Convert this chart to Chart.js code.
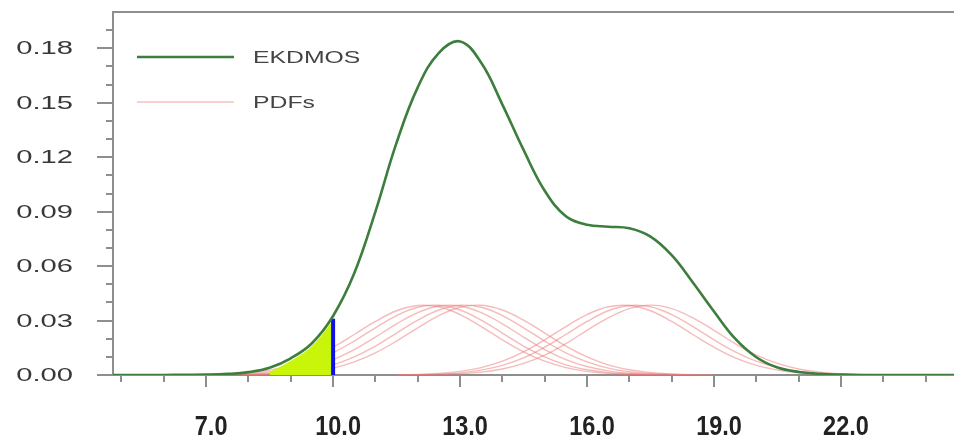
<!DOCTYPE html>
<html>
<head>
<meta charset="utf-8">
<title>EKDMOS</title>
<script src="https://cdn.jsdelivr.net/npm/chart.js@4.4.0/dist/chart.umd.min.js"></script>
<style>
  html, body { margin: 0; padding: 0; background: #fff; }
  #wrap { width: 954px; height: 438px; position: relative; }
</style>
</head>
<body>
<div id="wrap"><canvas id="pdfChart"></canvas></div>
<script>
const _ = null;

// Eje x común (cada 0.5)
const xValues = [4.5, 5.0, 5.5, 6.0, 6.5, 7.0, 7.5, 8.0, 8.5, 9.0, 9.5, 10.0,
  10.5, 11.0, 11.5, 12.0, 12.5, 13.0, 13.5, 14.0, 14.5, 15.0,
  15.5, 16.0, 16.5, 17.0, 17.5, 18.0, 18.5, 19.0, 19.5, 20.0,
  20.5, 21.0, 21.5, 22.0, 22.5, 23.0, 23.5, 24.0, 24.5, 25.0];

// Curva EKDMOS (verde)
const ekdmos = [0, 0, 0, 0, 0.0001, 0.0002, 0.0006, 0.0016, 0.0040, 0.0092, 0.0175, 0.0325,
  0.0560, 0.0900, 0.1280, 0.1585, 0.1775, 0.1838, 0.1720, 0.1490, 0.1240, 0.1015,
  0.0875, 0.0828, 0.0817, 0.0808, 0.0762, 0.0660, 0.0510, 0.0350, 0.0200, 0.0098,
  0.0041, 0.0017, 0.0007, 0.0002, 0, 0, 0, 0, 0, 0];

// Area sombreada bajo la curva hasta el umbral
const shaded = [_, _, _, _, _, _, _, _, 0.0015, 0.0078, 0.0160, 0.0300,
  _, _, _, _, _, _, _, _, _, _,
  _, _, _, _, _, _, _, _, _, _,
  _, _, _, _, _, _, _, _, _, _];

// Umbral (linea azul)
const thresholdX = 10.0;
const thresholdTop = 0.031;

// PDFs de los miembros (rosa)
const pdf1 = [_, _, _, _, 0.0001, 0.0002, 0.0005, 0.0012, 0.0027, 0.0053, 0.0094, 0.0153,
  0.0223, 0.0295, 0.0354, 0.0383, 0.0376, 0.0333, 0.0267, 0.0194, 0.0128, 0.0076,
  0.0041, 0.0020, 0.0009, 0.0003, 0.0001, _, _, _, _, _,
  _, _, _, _, _, _, _, _, _, _];
const pdf2 = [_, _, _, _, _, 0.0001, 0.0003, 0.0008, 0.0018, 0.0038, 0.0072, 0.0122,
  0.0187, 0.0260, 0.0327, 0.0373, 0.0384, 0.0358, 0.0302, 0.0231, 0.0159, 0.0100,
  0.0056, 0.0029, 0.0013, 0.0006, 0.0002, 0.0001, _, _, _, _,
  _, _, _, _, _, _, _, _, _, _];
const pdf3 = [_, _, _, _, _, 0.0001, 0.0002, 0.0004, 0.0010, 0.0023, 0.0047, 0.0085,
  0.0140, 0.0209, 0.0282, 0.0344, 0.0380, 0.0380, 0.0344, 0.0282, 0.0209, 0.0140,
  0.0085, 0.0047, 0.0023, 0.0010, 0.0004, 0.0002, 0.0001, _, _, _,
  _, _, _, _, _, _, _, _, _, _];
const pdf4 = [_, _, _, _, _, _, 0.0001, 0.0002, 0.0006, 0.0013, 0.0029, 0.0056,
  0.0100, 0.0159, 0.0231, 0.0302, 0.0358, 0.0384, 0.0373, 0.0327, 0.0260, 0.0187,
  0.0122, 0.0072, 0.0038, 0.0018, 0.0008, 0.0003, 0.0001, _, _, _,
  _, _, _, _, _, _, _, _, _, _];
const pdf5 = [_, _, _, _, _, _, _, 0.0001, 0.0003, 0.0008, 0.0018, 0.0038,
  0.0072, 0.0122, 0.0187, 0.0260, 0.0327, 0.0373, 0.0384, 0.0358, 0.0302, 0.0231,
  0.0159, 0.0100, 0.0056, 0.0029, 0.0013, 0.0006, 0.0002, 0.0001, _, _,
  _, _, _, _, _, _, _, _, _, _];
const pdf6 = [_, _, _, _, _, _, _, _, _, _, _, _,
  _, _, 0.0001, 0.0003, 0.0009, 0.0020, 0.0041, 0.0076, 0.0128, 0.0194,
  0.0267, 0.0333, 0.0376, 0.0383, 0.0354, 0.0295, 0.0223, 0.0153, 0.0094, 0.0053,
  0.0027, 0.0012, 0.0005, 0.0002, 0.0001, _, _, _, _, _];
const pdf7 = [_, _, _, _, _, _, _, _, _, _, _, _,
  _, _, 0.0001, 0.0002, 0.0005, 0.0012, 0.0027, 0.0053, 0.0094, 0.0153,
  0.0223, 0.0295, 0.0354, 0.0383, 0.0376, 0.0333, 0.0267, 0.0194, 0.0128, 0.0076,
  0.0041, 0.0020, 0.0009, 0.0003, 0.0001, _, _, _, _, _];
const pdf8 = [_, _, _, _, _, _, _, _, _, _, _, _,
  _, _, _, 0.0001, 0.0003, 0.0007, 0.0016, 0.0033, 0.0064, 0.0110,
  0.0173, 0.0246, 0.0315, 0.0366, 0.0385, 0.0366, 0.0315, 0.0246, 0.0173, 0.0110,
  0.0064, 0.0033, 0.0016, 0.0007, 0.0003, 0.0001, _, _, _, _];
const pdfSeries = [pdf1, pdf2, pdf3, pdf4, pdf5, pdf6, pdf7, pdf8];

// Marcas de los ejes
const xMajorTicks = [7, 10, 13, 16, 19, 22];
const xMinorTicks = [5, 6, 8, 9, 11, 12, 14, 15, 17, 18, 20, 21, 23, 24];
const yMajorTicks = [0, 0.03, 0.06, 0.09, 0.12, 0.15, 0.18];
const yMinorTicks = [0.01, 0.02, 0.04, 0.05, 0.07, 0.08, 0.10, 0.11, 0.13, 0.14, 0.16, 0.17, 0.19];

const greenColor = '#3d7d3d';
const pinkColor = 'rgba(238, 120, 120, 0.5)';
const axisColor = '#8e8e8e';

const toPoints = arr => xValues.map((x, i) => ({ x: x, y: arr[i] }));

const datasets = [
  {
    label: 'EKDMOS',
    data: toPoints(ekdmos),
    borderColor: greenColor,
    borderWidth: 2.6,
    tension: 0.4,
    pointRadius: 0,
    fill: false,
    order: 0
  },
  {
    label: 'umbral',
    data: [{ x: thresholdX, y: 0 }, { x: thresholdX, y: thresholdTop }],
    borderColor: '#1212e6',
    borderWidth: 4,
    borderCapStyle: 'butt',
    pointRadius: 0,
    fill: false,
    order: 1
  },
  {
    label: 'area',
    data: toPoints(shaded),
    borderWidth: 0,
    borderColor: 'rgba(0,0,0,0)',
    backgroundColor: '#c8f50a',
    tension: 0.4,
    pointRadius: 0,
    fill: 'origin',
    order: 2
  }
];
pdfSeries.forEach((arr, i) => {
  datasets.push({
    label: i === 0 ? 'PDFs' : 'PDF ' + (i + 1),
    data: toPoints(arr),
    borderColor: pinkColor,
    borderWidth: 1.4,
    tension: 0.4,
    pointRadius: 0,
    fill: false,
    order: 3
  });
});

// Marcas, etiquetas, borde superior y leyenda
const decorPlugin = {
  id: 'decor',
  afterDraw(chart) {
    const { ctx, chartArea: area, scales } = chart;
    const xs = scales.x, ys = scales.y;
    ctx.save();
    ctx.strokeStyle = axisColor;
    ctx.lineWidth = 2;
    const line = (x1, y1, x2, y2) => {
      ctx.beginPath(); ctx.moveTo(x1, y1); ctx.lineTo(x2, y2); ctx.stroke();
    };
    line(area.left - 1, area.top, area.right, area.top);

    xMajorTicks.forEach(v => { const px = Math.round(xs.getPixelForValue(v)); line(px, area.bottom, px, area.bottom + 12); });
    xMinorTicks.forEach(v => { const px = Math.round(xs.getPixelForValue(v)); line(px, area.bottom, px, area.bottom + 7); });
    yMajorTicks.forEach(v => { const py = Math.round(ys.getPixelForValue(v)); line(area.left - 16, py, area.left, py); });
    yMinorTicks.forEach(v => { const py = Math.round(ys.getPixelForValue(v)); line(area.left - 7, py, area.left, py); });

    // etiquetas eje y
    ctx.fillStyle = '#383838';
    ctx.font = '18px "Liberation Sans", Arial, sans-serif';
    ctx.textAlign = 'right';
    ctx.textBaseline = 'middle';
    yMajorTicks.forEach(v => {
      ctx.save();
      ctx.translate(area.left - 40, ys.getPixelForValue(v) + 1);
      ctx.scale(1.62, 1);
      ctx.fillText(v.toFixed(2), 0, 0);
      ctx.restore();
    });

    // etiquetas eje x
    ctx.fillStyle = '#222';
    ctx.font = 'bold 28px "Liberation Sans", Arial, sans-serif';
    ctx.textAlign = 'center';
    ctx.textBaseline = 'alphabetic';
    xMajorTicks.forEach(v => {
      ctx.save();
      ctx.translate(xs.getPixelForValue(v) + 5, area.bottom + 60);
      ctx.scale(0.84, 1);
      ctx.fillText(v.toFixed(1), 0, 0);
      ctx.restore();
    });

    // leyenda
    const legendItems = [
      { text: chart.data.datasets[0].label, color: greenColor, width: 2.6 },
      { text: chart.data.datasets[3].label, color: 'rgba(240, 150, 150, 0.45)', width: 2 }
    ];
    legendItems.forEach((item, i) => {
      const ly = area.top + 45 + i * 45;
      ctx.strokeStyle = item.color;
      ctx.lineWidth = item.width;
      line(area.left + 24, ly, area.left + 121, ly);
      ctx.save();
      ctx.fillStyle = '#444';
      ctx.font = '16.5px "Liberation Sans", Arial, sans-serif';
      ctx.textAlign = 'left';
      ctx.textBaseline = 'middle';
      ctx.translate(area.left + 140, ly + 1);
      ctx.scale(1.5, 1);
      ctx.fillText(item.text, 0, 0);
      ctx.restore();
    });
    ctx.restore();
  }
};

const ctx = document.getElementById('pdfChart').getContext('2d');
new Chart(ctx, {
  type: 'line',
  data: { datasets: datasets },
  options: {
    responsive: true,
    maintainAspectRatio: false,
    animation: false,
    layout: { padding: { top: 12, left: 0, right: 0, bottom: 0 } },
    plugins: {
      legend: { display: false },
      tooltip: { enabled: false }
    },
    scales: {
      x: {
        type: 'linear',
        min: 4.8,
        max: 24.67,
        grid: { display: false },
        border: { display: true, color: axisColor, width: 2 },
        ticks: { display: false },
        afterFit: s => { s.height = 63; }
      },
      y: {
        min: 0,
        max: 0.2,
        grid: { display: false },
        border: { display: true, color: axisColor, width: 2 },
        ticks: { display: false },
        afterFit: s => { s.width = 113; }
      }
    }
  },
  plugins: [decorPlugin]
});
</script>
</body>
</html>
